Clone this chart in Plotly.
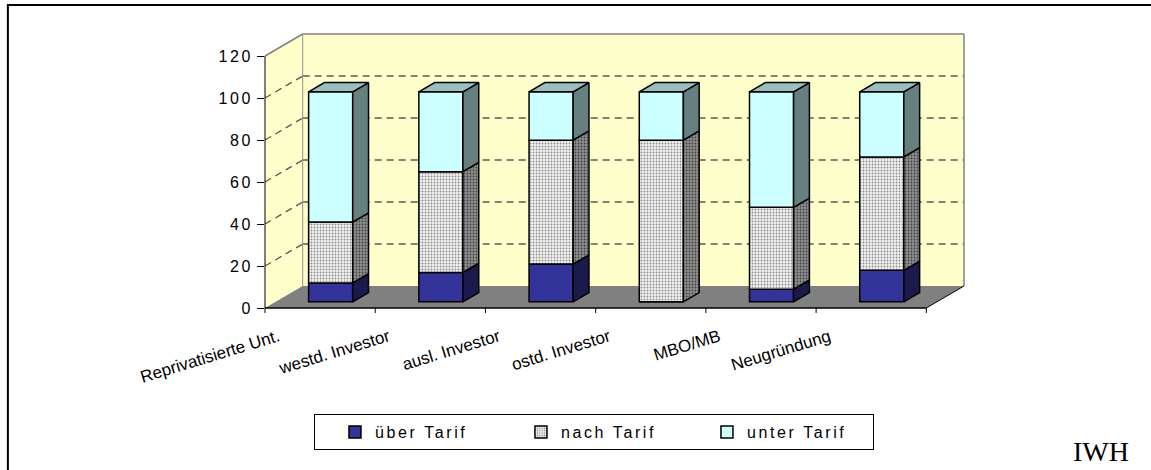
import plotly.graph_objects as go

# ---------------- data ----------------
categories = ["Reprivatisierte Unt.", "westd. Investor", "ausl. Investor",
              "ostd. Investor", "MBO/MB", "Neugründung"]
ueber_tarif = [9, 14, 18, 0, 6, 15]
nach_tarif = [29, 48, 59, 77, 39, 54]
unter_tarif = [62, 38, 23, 23, 55, 31]
y_tick_values = [0, 20, 40, 60, 80, 100, 120]
series_names = ["über Tarif", "nach Tarif", "unter Tarif"]
source_label = "IWH"

# ---------------- geometry / style ----------------
FIG_W, FIG_H = 1151, 470
CAT_PX = 110.3          # pixels per category (front plane)
VAL_PX = 2.1            # pixels per value unit
DEPTH_PX = (37.7, 22.0)  # 3D depth offset in pixels
n = len(categories)
Y_MAX = max(y_tick_values)
PL, PT = 265, 34
PW = n * CAT_PX + DEPTH_PX[0]
PH = Y_MAX * VAL_PX + DEPTH_PX[1]
XR = PW / CAT_PX
YR = PH / VAL_PX
DX = DEPTH_PX[0] / CAT_PX
DY = DEPTH_PX[1] / VAL_PX
F0, F1 = 0.28, 0.70     # bar depth span (fraction of full depth)
BAR_W = 0.4
LABEL_SHIFT = 0.38

FONT = "Liberation Sans, Arial, sans-serif"
WALL = "#FFFFCC"
FLOOR = "#808080"
GRID = "#5A5A5A"

front_colors = ["#333399", None, "#CCFFFF"]
side_colors = ["#1A1A4D", None, "#668080"]
top_colors = ["#26266E", "#B0B0B0", "#99BFBF"]


def xp(x):
    return x / XR


def yp(y):
    return y / YR


def ls(text, sp):
    return f'<span style="letter-spacing:{sp}px">{text}</span>'


series = [ueber_tarif, nach_tarif, unter_tarif]

fig = go.Figure()

# ---------------- front faces (bars) ----------------
bases = [0] * n
seg = []
for s_idx, vals in enumerate(series):
    b = list(bases)
    seg.append((b, [b[i] + vals[i] for i in range(n)]))
    marker = dict(line=dict(color="black", width=1.5))
    if s_idx == 1:
        marker["color"] = "white"
        marker["pattern"] = dict(shape=".", fgcolor="#8C8C8C", bgcolor="#F2F2F2",
                                 size=3, solidity=0.3, fillmode="replace")
    else:
        marker["color"] = front_colors[s_idx]
    fig.add_trace(go.Bar(
        x=[i + 0.5 + F0 * DX for i in range(n)],
        y=vals,
        base=[bb + F0 * DY for bb in b],
        width=BAR_W,
        name=ls(series_names[s_idx], 2.6),
        marker=marker,
        hoverinfo="skip",
    ))
    bases = [b[i] + vals[i] for i in range(n)]

# ---------------- side faces ----------------
ddx = (F1 - F0) * DX
for s_idx, vals in enumerate(series):
    b, t = seg[s_idx]
    xs, ys = [], []
    for i in range(n):
        if vals[i] <= 0:
            continue
        xr = i + 0.5 + F0 * DX + BAR_W / 2
        xs += [xr, xr + ddx, xr + ddx, xr, xr, None]
        ys += [b[i] + F0 * DY, b[i] + F1 * DY, t[i] + F1 * DY, t[i] + F0 * DY,
               b[i] + F0 * DY, None]
    kw = dict(x=xs, y=ys, mode="lines", fill="toself",
              line=dict(color="black", width=1.5),
              showlegend=False, hoverinfo="skip")
    if s_idx == 1:
        kw["fillcolor"] = "#8A8A8A"
        kw["fillpattern"] = dict(shape=".", fgcolor="#404040", bgcolor="#8F8F8F",
                                 size=3, solidity=0.3, fillmode="replace")
    else:
        kw["fillcolor"] = side_colors[s_idx]
    fig.add_trace(go.Scatter(**kw))

# ---------------- top faces ----------------
for s_idx in range(len(series)):
    xs, ys = [], []
    for i in range(n):
        top_idx = max(k for k in range(len(series)) if series[k][i] > 0)
        if top_idx != s_idx:
            continue
        T = seg[s_idx][1][i]
        xl = i + 0.5 + F0 * DX - BAR_W / 2
        xr = xl + BAR_W
        xs += [xl, xl + ddx, xr + ddx, xr, xl, None]
        ys += [T + F0 * DY, T + F1 * DY, T + F1 * DY, T + F0 * DY, T + F0 * DY, None]
    if xs:
        fig.add_trace(go.Scatter(x=xs, y=ys, mode="lines", fill="toself",
                                 fillcolor=top_colors[s_idx],
                                 line=dict(color="black", width=1.5),
                                 showlegend=False, hoverinfo="skip"))

# ---------------- walls, floor, grid ----------------
shapes = []


def poly(pts, fill, line_color=None, width=0, layer="below"):
    path = "M " + " L ".join(f"{xp(a)},{yp(c)}" for a, c in pts) + " Z"
    shapes.append(dict(type="path", xref="paper", yref="paper", path=path,
                       fillcolor=fill, layer=layer,
                       line=dict(color=line_color or fill, width=width)))


def seg_line(p0, p1, color, width, dash="solid", layer="below"):
    shapes.append(dict(type="line", xref="paper", yref="paper",
                       x0=xp(p0[0]), y0=yp(p0[1]), x1=xp(p1[0]), y1=yp(p1[1]),
                       line=dict(color=color, width=width, dash=dash), layer=layer))


poly([(0, 0), (0, Y_MAX), (DX, Y_MAX + DY), (DX, DY)], WALL)
poly([(DX, DY), (DX, Y_MAX + DY), (n + DX, Y_MAX + DY), (n + DX, DY)], WALL)
poly([(0, 0), (n, 0), (n + DX, DY), (DX, DY)], FLOOR)

for v in y_tick_values[1:-1]:
    seg_line((DX, v + DY), (n + DX, v + DY), GRID, 1.3, "7px,5px")
    seg_line((0, v), (DX, v + DY), GRID, 1.3, "7px,5px")

# wall borders
seg_line((0, Y_MAX), (DX, Y_MAX + DY), "#808080", 1.5)
seg_line((DX, Y_MAX + DY), (n + DX, Y_MAX + DY), "#808080", 1.5)
seg_line((n + DX, Y_MAX + DY), (n + DX, DY), "#808080", 1.5)
seg_line((DX, DY), (DX, Y_MAX + DY), "#909090", 1)
# axis line and floor edges
seg_line((0, 0), (0, Y_MAX), "black", 1)
seg_line((0, 0), (n, 0), "black", 1.5)
seg_line((n, 0), (n + DX, DY), "black", 1)
for i in range(n + 1):
    shapes.append(dict(type="line", xref="paper", yref="paper",
                       x0=xp(i), x1=xp(i), y0=0, y1=-5 / PH,
                       line=dict(color="black", width=1)))

# outer frame (top and left edges)
shapes.append(dict(type="line", xref="paper", yref="paper",
                   x0=(7.7 - PL) / PW, x1=(FIG_W + 5 - PL) / PW,
                   y0=(PT + PH - 5) / PH, y1=(PT + PH - 5) / PH,
                   line=dict(color="black", width=2)))
shapes.append(dict(type="line", xref="paper", yref="paper",
                   x0=(7.7 - PL) / PW, x1=(7.7 - PL) / PW,
                   y0=(PT + PH - 4) / PH, y1=(PT + PH - FIG_H - 5) / PH,
                   line=dict(color="black", width=2)))

fig.update_layout(
    width=FIG_W, height=FIG_H,
    margin=dict(l=PL, t=PT, r=FIG_W - PL - PW, b=FIG_H - PT - PH, pad=0),
    paper_bgcolor="white", plot_bgcolor="rgba(0,0,0,0)",
    barmode="overlay",
    shapes=shapes,
    font=dict(family=FONT, color="black"),
    xaxis=dict(range=[0, XR], showgrid=False, zeroline=False, showline=False,
               tickvals=[i + 0.5 - LABEL_SHIFT for i in range(n)],
               ticktext=categories, tickangle=-17, ticks="",
               ticklabelstandoff=15,
               tickfont=dict(family=FONT, size=17, color="black"),
               fixedrange=True),
    yaxis=dict(range=[0, YR], showgrid=False, zeroline=False, showline=False,
               tickvals=y_tick_values,
               ticktext=[ls(str(v), 2.5) for v in y_tick_values],
               ticks="outside", ticklen=7, tickcolor="black", tickwidth=1,
               ticklabelstandoff=1,
               tickfont=dict(family=FONT, size=16, color="black"),
               fixedrange=True),
    legend=dict(orientation="h", x=(314 - PL) / PW, xanchor="left",
                y=(PT + PH - 414) / PH, yanchor="top",
                bordercolor="black", borderwidth=1, bgcolor="white",
                entrywidth=121, entrywidthmode="pixels", indentation=20,
                font=dict(family=FONT, size=16, color="black"),
                itemwidth=30, traceorder="normal"),
    annotations=[dict(text=source_label, xref="paper", yref="paper",
                      x=(1132 - PL) / PW, xanchor="right",
                      y=(PT + PH - 451.5) / PH, yanchor="middle",
                      showarrow=False,
                      font=dict(family="Liberation Serif, Times New Roman, serif",
                                size=28, color="black"))],
    showlegend=True,
)

fig.write_html("out.html",
               config={"displayModeBar": False},
               post_script="document.body.style.margin='0px';"
                           "document.body.style.overflow='hidden';")
